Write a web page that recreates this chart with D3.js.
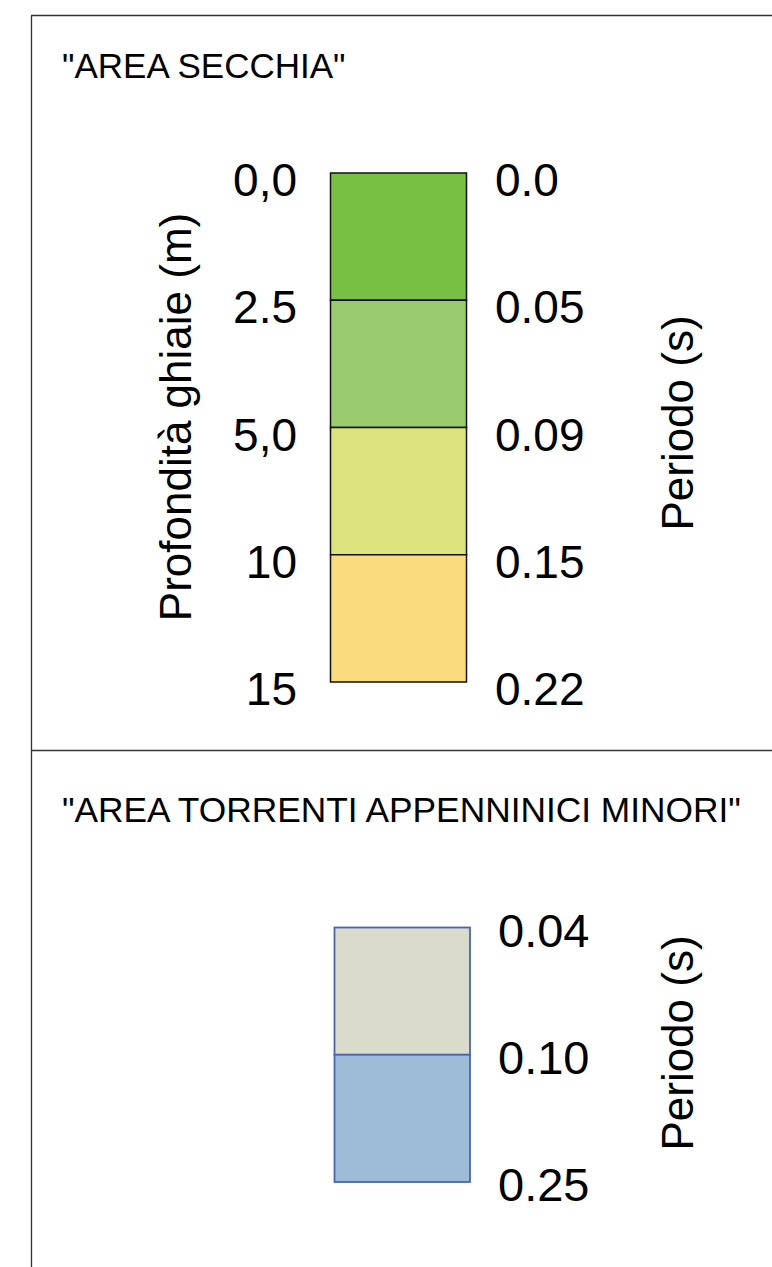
<!DOCTYPE html>
<html>
<head>
<meta charset="utf-8">
<script src="https://cdn.jsdelivr.net/npm/d3@7"></script>
<style>
  html, body { margin: 0; padding: 0; background: #ffffff; }
  svg { display: block; font-family: "Liberation Sans", Arial, sans-serif; }
</style>
</head>
<body>
<svg id="chart" width="772" height="1267"></svg>
<script>
// ---- data ----
const titleTop = '"AREA SECCHIA"';
const titleBottom = '"AREA TORRENTI APPENNINICI MINORI"';
const depthLabels = ["0,0", "2.5", "5,0", "10", "15"];           // Profondità ghiaie (m)
const periodTopLabels = ["0.0", "0.05", "0.09", "0.15", "0.22"];  // Periodo (s)
const topBandColors = ["#77C044", "#98CB6E", "#DCE37E", "#FADC7E"];
const periodBottomLabels = ["0.04", "0.10", "0.25"];              // Periodo (s)
const bottomBandColors = ["#DBDBCC", "#9EBBD7"];
const depthAxisTitle = "Profondità ghiaie (m)";
const periodAxisTitle = "Periodo (s)";

const svg = d3.select("#chart");

// frame
const frame = svg.append("g").attr("stroke", "#333").attr("stroke-width", 1.3).attr("fill", "none");
frame.append("line").attr("x1", 31.5).attr("x2", 31.5).attr("y1", 15.5).attr("y2", 1267);
frame.append("line").attr("x1", 31).attr("x2", 772).attr("y1", 15.5).attr("y2", 15.5);
frame.append("line").attr("x1", 31).attr("x2", 772).attr("y1", 750.5).attr("y2", 750.5);

// ---- top panel ----
svg.append("text").attr("x", 62).attr("y", 78).attr("font-size", 35).attr("fill", "#000").text(titleTop);

const yTop = d3.scaleLinear().domain([0, depthLabels.length - 1]).range([173, 682]);
const xTop = d3.scaleLinear().domain([0, 1]).range([330.5, 466.5]);

svg.append("g").selectAll("rect").data(topBandColors).join("rect")
  .attr("x", xTop(0)).attr("width", xTop(1) - xTop(0))
  .attr("y", (d, i) => yTop(i)).attr("height", (d, i) => yTop(i + 1) - yTop(i))
  .attr("fill", d => d).attr("stroke", "#111").attr("stroke-width", 1.5);

svg.append("g").selectAll("text").data(depthLabels).join("text")
  .attr("x", 297).attr("y", (d, i) => yTop(i) + 23)
  .attr("text-anchor", "end").attr("font-size", 46).attr("fill", "#000").text(d => d);

svg.append("g").selectAll("text").data(periodTopLabels).join("text")
  .attr("x", 495).attr("y", (d, i) => yTop(i) + 23)
  .attr("text-anchor", "start").attr("font-size", 46).attr("fill", "#000").text(d => d);

svg.append("text").attr("transform", "translate(191,417) rotate(-90)")
  .attr("text-anchor", "middle").attr("font-size", 44).attr("fill", "#000").text(depthAxisTitle);
svg.append("text").attr("transform", "translate(693,423) rotate(-90)")
  .attr("text-anchor", "middle").attr("font-size", 44).attr("fill", "#000").text(periodAxisTitle);

// ---- bottom panel ----
svg.append("text").attr("x", 62).attr("y", 822).attr("font-size", 35.3).attr("fill", "#000").text(titleBottom);

const yBot = d3.scaleLinear().domain([0, periodBottomLabels.length - 1]).range([927.5, 1182]);
const xBot = d3.scaleLinear().domain([0, 1]).range([334.5, 470]);

svg.append("g").selectAll("rect").data(bottomBandColors).join("rect")
  .attr("x", xBot(0)).attr("width", xBot(1) - xBot(0))
  .attr("y", (d, i) => yBot(i)).attr("height", (d, i) => yBot(i + 1) - yBot(i))
  .attr("fill", d => d).attr("stroke", "#4A64B4").attr("stroke-width", 1.8);

svg.append("g").selectAll("text").data(periodBottomLabels).join("text")
  .attr("x", 498).attr("y", (d, i) => yBot(i) + 19)
  .attr("text-anchor", "start").attr("font-size", 47).attr("fill", "#000").text(d => d);

svg.append("text").attr("transform", "translate(693,1043) rotate(-90)")
  .attr("text-anchor", "middle").attr("font-size", 44).attr("fill", "#000").text(periodAxisTitle);
</script>
</body>
</html>
